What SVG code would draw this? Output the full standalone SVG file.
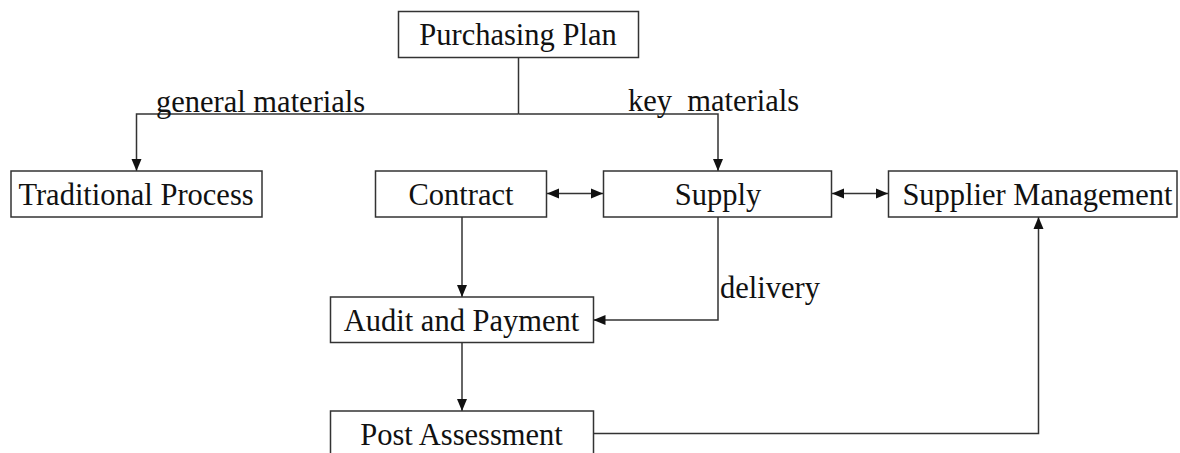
<svg xmlns="http://www.w3.org/2000/svg" width="1180" height="453" viewBox="0 0 1180 453">
<style>
.box{fill:#fff;stroke:#333;stroke-width:1.5}
.lbl{font-family:"Liberation Serif","Times New Roman",serif;font-size:30.5px;fill:#111;text-anchor:middle}
.elbl{font-family:"Liberation Serif","Times New Roman",serif;font-size:30.5px;fill:#111;white-space:pre}
.ln{fill:none;stroke:#333;stroke-width:1.5}
</style>
<defs>
<marker id="ah" viewBox="0 0 12 12" refX="12" refY="6" markerWidth="12" markerHeight="12" markerUnits="userSpaceOnUse" orient="auto-start-reverse">
<path d="M0,1 L12,6 L0,11 z" fill="#111"/>
</marker>
</defs>
<rect width="1180" height="453" fill="#fff"/>
<g id="connectors">
<path class="ln" d="M518.5,57.5 V114"/>
<path class="ln" d="M518.5,114 H136.5 V171" marker-end="url(#ah)"/>
<path class="ln" d="M518.5,114 H718 V171" marker-end="url(#ah)"/>
<path class="ln" d="M547,193.5 H603" marker-start="url(#ah)" marker-end="url(#ah)"/>
<path class="ln" d="M832,193.5 H888" marker-start="url(#ah)" marker-end="url(#ah)"/>
<path class="ln" d="M462,217 V297" marker-end="url(#ah)"/>
<path class="ln" d="M718,217 V320 H593.5" marker-end="url(#ah)"/>
<path class="ln" d="M462,342.5 V411" marker-end="url(#ah)"/>
<path class="ln" d="M593.5,433.5 H1038.5 V217" marker-end="url(#ah)"/>
<text class="elbl" x="156" y="112">general materials</text>
<text class="elbl" x="628" y="111" xml:space="preserve">key  materials</text>
<text class="elbl" x="720" y="298">delivery</text>
</g>
<g id="purchasing-plan">
<rect class="box" x="398.5" y="11.5" width="240" height="46"/>
<text class="lbl" x="518" y="45">Purchasing Plan</text>
</g>
<g id="traditional-process">
<rect class="box" x="11" y="171" width="251" height="46"/>
<text class="lbl" x="136" y="205">Traditional Process</text>
</g>
<g id="contract">
<rect class="box" x="375.5" y="171" width="171" height="46"/>
<text class="lbl" x="461" y="205">Contract</text>
</g>
<g id="supply">
<rect class="box" x="603.5" y="171" width="228" height="46"/>
<text class="lbl" x="718" y="205">Supply</text>
</g>
<g id="supplier-management">
<rect class="box" x="888.5" y="171" width="288.5" height="46"/>
<text class="lbl" x="1037.5" y="205">Supplier Management</text>
</g>
<g id="audit-payment">
<rect class="box" x="330.5" y="297" width="263" height="45.5"/>
<text class="lbl" x="461.5" y="331">Audit and Payment</text>
</g>
<g id="post-assessment">
<rect class="box" x="330.5" y="411" width="263" height="48"/>
<text class="lbl" x="461.5" y="445">Post Assessment</text>
</g>
</svg>
